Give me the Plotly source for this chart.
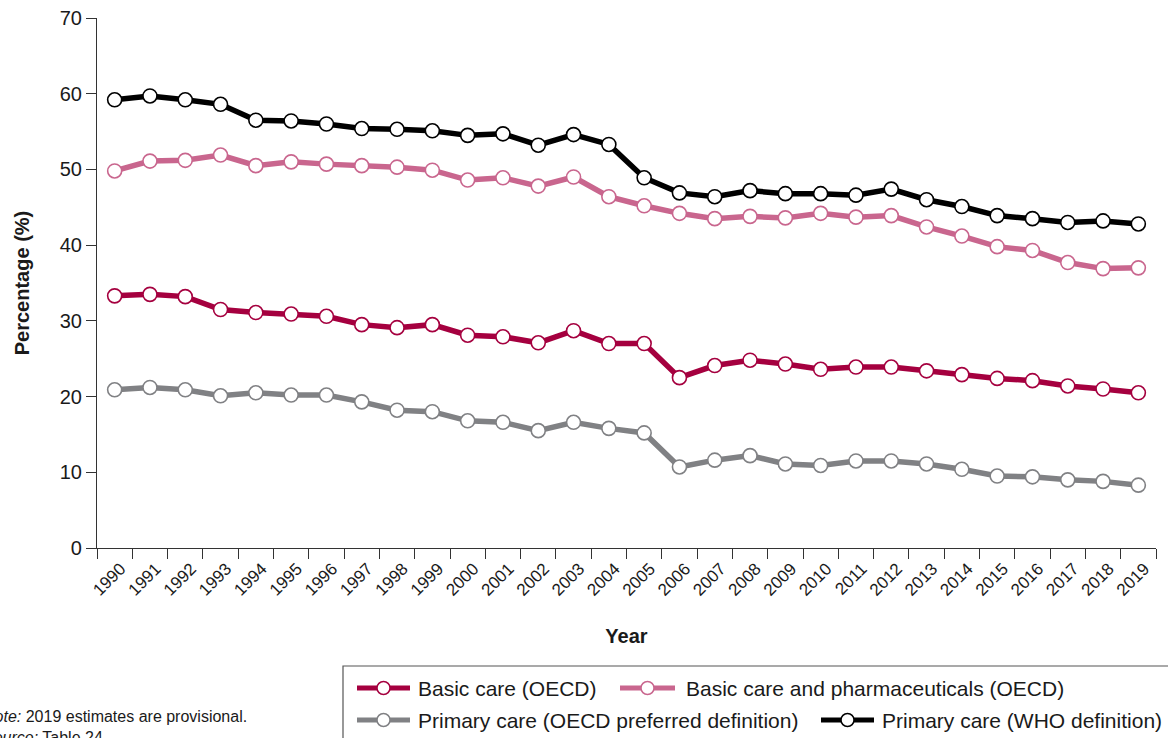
import plotly.graph_objects as go

# Share of current health expenditure (%), 1990-2019
years = [str(y) for y in range(1990, 2020)]

basic_care_oecd = [
    33.3, 33.5, 33.2, 31.5, 31.1, 30.9, 30.6, 29.5, 29.1, 29.5,
    28.1, 27.9, 27.1, 28.7, 27.0, 27.0, 22.5, 24.1, 24.8, 24.3,
    23.6, 23.9, 23.9, 23.4, 22.9, 22.4, 22.1, 21.4, 21.0, 20.5,
]
basic_care_pharma_oecd = [
    49.8, 51.1, 51.2, 51.9, 50.5, 51.0, 50.7, 50.5, 50.3, 49.9,
    48.6, 48.9, 47.8, 49.0, 46.4, 45.2, 44.2, 43.5, 43.8, 43.6,
    44.2, 43.7, 43.9, 42.4, 41.2, 39.8, 39.3, 37.7, 36.9, 37.0,
]
primary_care_oecd_pref = [
    20.9, 21.2, 20.9, 20.1, 20.5, 20.2, 20.2, 19.3, 18.2, 18.0,
    16.8, 16.6, 15.5, 16.6, 15.8, 15.2, 10.7, 11.6, 12.2, 11.1,
    10.9, 11.5, 11.5, 11.1, 10.4, 9.5, 9.4, 9.0, 8.8, 8.3,
]
primary_care_who = [
    59.2, 59.7, 59.2, 58.6, 56.5, 56.4, 56.0, 55.4, 55.3, 55.1,
    54.5, 54.7, 53.2, 54.6, 53.3, 48.9, 46.9, 46.4, 47.2, 46.8,
    46.8, 46.6, 47.4, 46.0, 45.1, 43.9, 43.5, 43.0, 43.2, 42.8,
]

series_names = [
    "Basic care (OECD)",
    "Basic care and pharmaceuticals (OECD)",
    "Primary care (OECD preferred definition)",
    "Primary care (WHO definition)",
]
series_values = [basic_care_oecd, basic_care_pharma_oecd,
                 primary_care_oecd_pref, primary_care_who]
series_colors = ["#A5003F", "#C9668E", "#808184", "#000000"]

y_ticks = [0, 10, 20, 30, 40, 50, 60, 70]

FONT = "Liberation Sans, Arial, Helvetica, sans-serif"
W, H = 1168, 738
L, R, T, B = 97, 12, 18, 190
PW, PH = W - L - R, H - T - B


def px_x(p):
    return (p - L) / PW


def px_y(p):
    return (H - B - p) / PH


fig = go.Figure()
for name, vals, col in zip(series_names, series_values, series_colors):
    fig.add_trace(go.Scatter(
        x=years, y=vals, name=name, mode="lines+markers",
        line=dict(color=col, width=5.5),
        marker=dict(size=14, color="white", line=dict(color=col, width=1.6)),
        showlegend=False,
    ))

# Boxed key below the plot, laid out in two rows
shapes = [dict(type="rect", xref="paper", yref="paper",
               x0=px_x(343), x1=px_x(1300), y0=px_y(666), y1=px_y(900),
               line=dict(color="#555555", width=1.2), fillcolor="rgba(0,0,0,0)")]
annotations = []
key_items = [
    (0, 357, 410, 416, 688),
    (1, 620, 675, 684, 688),
    (2, 357, 410, 416, 720),
    (3, 821, 874, 880, 720),
]
for idx, xa, xb, xt, yc in key_items:
    col = series_colors[idx]
    shapes.append(dict(type="line", xref="paper", yref="paper",
                       x0=px_x(xa), x1=px_x(xb), y0=px_y(yc), y1=px_y(yc),
                       line=dict(color=col, width=5)))
    shapes.append(dict(type="circle", xref="paper", yref="paper",
                       xsizemode="pixel", ysizemode="pixel",
                       xanchor=px_x((xa + xb) / 2), yanchor=px_y(yc),
                       x0=-6.5, x1=6.5, y0=-6.5, y1=6.5,
                       fillcolor="white", line=dict(color=col, width=1.5)))
    annotations.append(dict(xref="paper", yref="paper", x=px_x(xt), y=px_y(yc),
                            xanchor="left", yanchor="middle", showarrow=False,
                            text=series_names[idx],
                            font=dict(family=FONT, size=21, color="#1a1a1a")))

annotations.append(dict(xref="paper", yref="paper", x=px_x(-19), y=px_y(716),
                        xanchor="left", yanchor="middle", showarrow=False,
                        text="<i>Note:</i> 2019 estimates are provisional.",
                        font=dict(family=FONT, size=16, color="#1a1a1a")))
annotations.append(dict(xref="paper", yref="paper", x=px_x(-19), y=px_y(737),
                        xanchor="left", yanchor="middle", showarrow=False,
                        text="<i>Source:</i> Table 24",
                        font=dict(family=FONT, size=16, color="#1a1a1a")))

fig.update_layout(
    width=W, height=H,
    margin=dict(l=L, r=R, t=T, b=B, autoexpand=False),
    paper_bgcolor="white", plot_bgcolor="white",
    font=dict(family=FONT, color="#1a1a1a"),
    shapes=shapes, annotations=annotations,
    xaxis=dict(
        type="category", categoryorder="array", categoryarray=years,
        range=[-0.5, len(years) - 0.5],
        showgrid=False, zeroline=False,
        showline=True, linecolor="#333333", linewidth=1.2,
        ticks="outside", tickson="boundaries", ticklen=10,
        tickcolor="#333333", tickwidth=1.2,
        tickangle=-45, tickfont=dict(family=FONT, size=17, color="#1a1a1a"),
        ticklabelshift=6, ticklabelstandoff=3,
        title=dict(text="<b>Year</b>", font=dict(family=FONT, size=20, color="#1a1a1a"),
                   standoff=30),
        automargin=False,
    ),
    yaxis=dict(
        range=[0, 70], tickvals=y_ticks,
        showgrid=False, zeroline=False,
        showline=True, linecolor="#333333", linewidth=1.2,
        ticks="outside", ticklen=10, tickcolor="#333333", tickwidth=1.2,
        tickfont=dict(family=FONT, size=20, color="#1a1a1a"),
        title=dict(text="<b>Percentage (%)</b>",
                   font=dict(family=FONT, size=20, color="#1a1a1a"), standoff=24),
        automargin=False,
    ),
)

fig.write_html("out.html")
